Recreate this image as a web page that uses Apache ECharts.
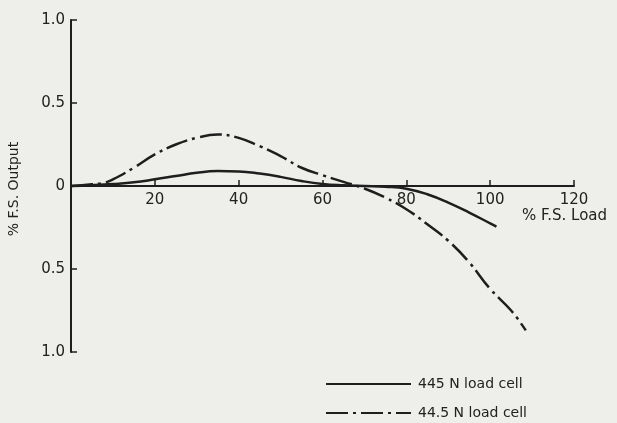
<!DOCTYPE html>
<html>
<head>
<meta charset="utf-8">
<script src="https://cdn.jsdelivr.net/npm/echarts@6/dist/echarts.min.js"></script>
<style>
html,body{margin:0;padding:0;background:#eeeeea;}
#c{width:617px;height:423px;}
</style>
</head>
<body>
<div id="c"></div>
<script>
// % F.S. load values (x) and % F.S. output (y)
const load445 = [0,5,10,15,20,25,30,35,40,45,50,55,60,65,70,75,80,85,90,95,100,101.5];
const out445  = [0,0.005,0.012,0.022,0.04,0.06,0.08,0.09,0.088,0.075,0.055,0.03,0.012,0.004,0,-0.004,-0.016,-0.05,-0.1,-0.16,-0.225,-0.245];
const load44_5 = [0,5,8,10,15,20,25,30,35,40,45,50,55,60,65,70,75,80,85,90,95,100,105,108.5];
const out44_5  = [0,0.01,0.02,0.04,0.11,0.19,0.25,0.29,0.31,0.29,0.24,0.18,0.11,0.065,0.025,-0.015,-0.07,-0.14,-0.23,-0.33,-0.46,-0.62,-0.75,-0.87];
const seriesNames = ['445 N load cell','44.5 N load cell'];
const xTicks = [0,20,40,60,80,100,120];
const yTicks = [-1,-0.5,0,0.5,1];

const ink = '#1e1e1e';
const font = 'DejaVu Sans';
const legendBase = {
  orient:'vertical', left:320, itemWidth:85, itemHeight:12,
  itemStyle:{opacity:0},
  textStyle:{color:'#222', fontFamily:font, fontSize:14, padding:[0,0,0,2]}
};
const chart = echarts.init(document.getElementById('c'));
chart.setOption({
  backgroundColor:'#eeeeea',
  animation:false,
  grid:{left:71,right:43,top:20,bottom:71},
  xAxis:{
    type:'value', min:xTicks[0], max:xTicks[xTicks.length-1], interval:20,
    axisLine:{onZero:true, lineStyle:{color:ink,width:2}},
    axisTick:{show:true, inside:true, length:6, lineStyle:{color:ink,width:1.5}},
    axisLabel:{color:'#222', fontFamily:font, fontSize:15, margin:-159,
      formatter:v=> v===0 ? '' : String(v)},
    splitLine:{show:false}
  },
  yAxis:{
    type:'value', min:yTicks[0], max:yTicks[yTicks.length-1], interval:0.5,
    axisLine:{lineStyle:{color:ink,width:2}},
    axisTick:{show:true, inside:true, length:6, lineStyle:{color:ink,width:1.5}},
    axisLabel:{color:'#222', fontFamily:font, fontSize:15, margin:6,
      formatter:v=> v===0 ? '0' : Math.abs(v).toFixed(1)},
    splitLine:{show:false}
  },
  legend:[
    Object.assign({}, legendBase, {top:372, data:[seriesNames[0]]}),
    Object.assign({}, legendBase, {top:401, data:[seriesNames[1]]})
  ],
  graphic:[
    {type:'text', left:522, top:209, style:{text:'% F.S. Load', font:'15px "DejaVu Sans"', fill:'#222'}},
    {type:'text', x:14, y:189, rotation:Math.PI/2, style:{text:'% F.S. Output', font:'14px "DejaVu Sans"', fill:'#222', align:'center', verticalAlign:'middle'}}
  ],
  series:[
    {name:seriesNames[0], type:'line', smooth:0.45, symbol:'none',
      data:load445.map((x,i)=>[x,out445[i]]),
      lineStyle:{color:ink,width:2.5}, itemStyle:{color:ink}},
    {name:seriesNames[1], type:'line', smooth:0.45, symbol:'none',
      data:load44_5.map((x,i)=>[x,out44_5[i]]),
      lineStyle:{color:ink,width:2.5,type:[22,5,3,5]}, itemStyle:{color:ink}}
  ]
});
</script>
</body>
</html>
